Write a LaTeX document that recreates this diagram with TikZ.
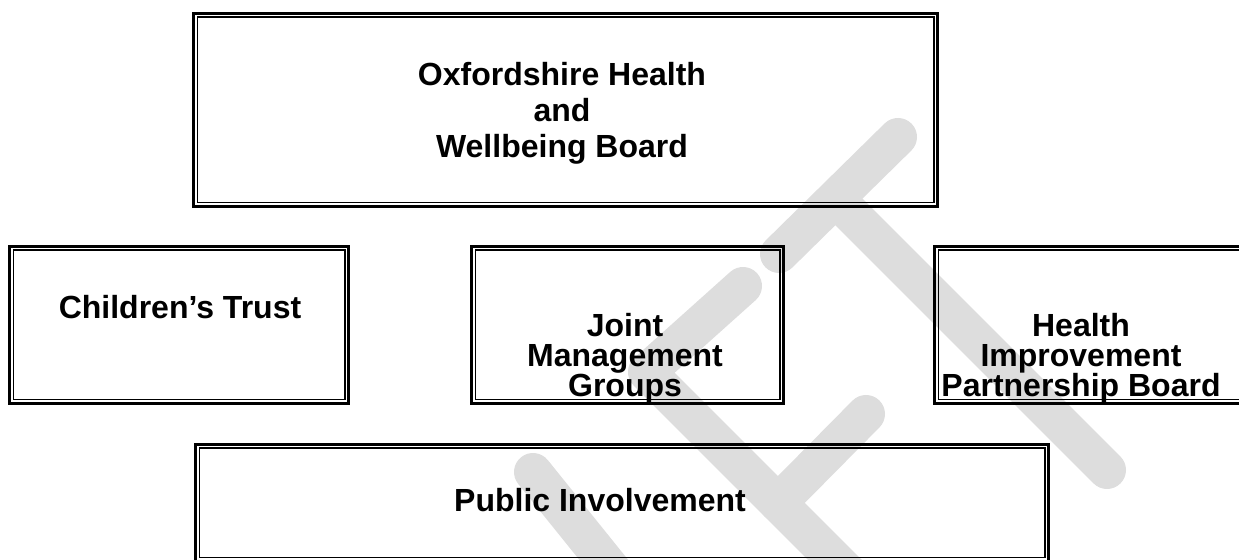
\documentclass[tikz,border=0pt]{standalone}
\usepackage{fontspec}
\setmainfont{Liberation Sans}
\usetikzlibrary{positioning}
\definecolor{lgray}{RGB}{221,221,221}
\tikzstyle{Box} = [
draw,
line width=1.5pt,
inner sep=0pt,
path picture={
\draw[line width=0.75pt]
([shift={(1.875pt,1.875pt)}]path picture bounding box.south west) rectangle
([shift={(-1.875pt,-1.875pt)}]path picture bounding box.north east);}]
\tikzstyle{Label} = [
align=center,
inner sep=0pt,
font=\bfseries\fontsize{16}{15}\selectfont]
\tikzstyle{Mark} = [lgray, line width=19pt, line cap=round, line join=round]

\begin{document}
\begin{tikzpicture}[x=0.5pt, y=-0.5pt]
    \useasboundingbox (0,0) rectangle (1239,560);

    % watermark
    \begin{scope}
        \clip (0,0) rectangle (1239,560);
        \coordinate (tbarA) at (898,137);
        \coordinate (tbarB) at (779,254);
        \coordinate (tTop) at (836,199);
        \coordinate (tFoot) at (1107,470);
        \coordinate (fArm) at (743,286);
        \coordinate (fTop) at (647,372);
        \coordinate (fFoot) at (880,605);
        \coordinate (fMidA) at (778,503);
        \coordinate (fMidB) at (866,414);
        \coordinate (aTop) at (533,472);
        \coordinate (aFoot) at (620,580);
        \draw[Mark] (tbarA) -- (tbarB);
        \draw[Mark] (tTop) -- (tFoot);
        \draw[Mark] (fArm) -- (fTop) -- (fFoot);
        \draw[Mark] (fMidA) -- (fMidB);
        \draw[Mark] (aTop) -- (aFoot);
    \end{scope}

    \node[Box, minimum width=372pt, minimum height=96.5pt] (board) at (565.5,110) {};
    \node[Box, minimum width=169.5pt, minimum height=78.5pt] (trust) at (179,325) {};
    \node[Box, minimum width=156pt, minimum height=78.5pt] (jmg) at (627.5,325) {};
    \node[Box, minimum width=157pt, minimum height=78.5pt] (hipb) at (1091.5,325) {};
    \node[Box, minimum width=426.5pt, minimum height=58.5pt] (public) at (622,503) {};

    \node[Label, font=\bfseries\fontsize{16}{18}\selectfont] (boardText) at (562,113)
        {Oxfordshire Health\\and\\Wellbeing Board};
    \node[Label] (trustText) at (180,307) {Children’s Trust};
    \node[Label] (jmgText) at (625,358) {Joint\\Management\\Groups};
    \node[Label] (hipbText) at (1081,358) {Health\\Improvement\\Partnership Board};
    \node[Label] (publicText) at (600,500) {Public Involvement};
\end{tikzpicture}
\end{document}
